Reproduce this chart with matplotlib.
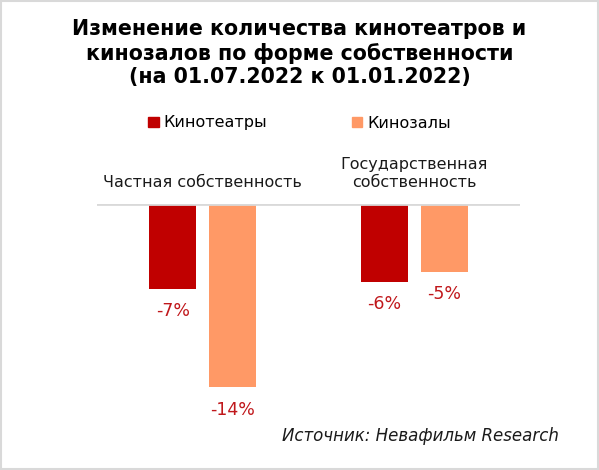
import numpy as np
import matplotlib
matplotlib.use('Agg')
import matplotlib.pyplot as plt
from matplotlib.patches import Patch, Rectangle

# данные
groups = ['Частная собственность', 'Государственная\nсобственность']
series = ['Кинотеатры', 'Кинозалы']
kinoteatry = [-6.55, -6.0]
kinozaly = [-14.1, -5.2]
colors = ['#c00000', '#ff9966']
label_color = '#c0171b'

plt.rcParams['font.family'] = ['DejaVu Sans']

fig = plt.figure(figsize=(5.99, 4.70), dpi=100)
ax = fig.add_axes([97 / 599, 50 / 470, 423 / 599, 216 / 470])

x = np.arange(len(groups))
w = 0.222
off = 0.1415
b1 = ax.bar(x - off, kinoteatry, w, color=colors[0], zorder=2)
b2 = ax.bar(x + off, kinozaly, w, color=colors[1], zorder=2)

for bars in (b1, b2):
    for rect in bars:
        v = rect.get_height()
        ax.annotate(f'{round(v)}%', (rect.get_x() + rect.get_width() / 2, v),
                    xytext=(0, -16), textcoords='offset points',
                    ha='center', va='center', fontsize=12.5, color=label_color)

ax.axhline(0, color='#d9d9d9', lw=2, zorder=3)
ax.set_xlim(-0.5, 1.5)
ax.set_ylim(-16.6, 0)
ax.axis('off')

for i, g in enumerate(groups):
    ax.annotate(g, (i, 0), xytext=(0, 10), textcoords='offset points',
                ha='center', va='bottom', fontsize=11.5, color='#1a1a1a',
                annotation_clip=False, linespacing=1.25)

fig.text(0.5, 1 - 53 / 470,
         'Изменение количества кинотеатров и\nкинозалов по форме собственности\n(на 01.07.2022 к 01.01.2022)',
         ha='center', va='center', fontsize=14.8, fontweight='bold', linespacing=1.2)

handles = [Patch(color=c) for c in colors]
fig.legend(handles, series, loc='center', bbox_to_anchor=(0.5, 1 - 123 / 470),
           ncol=2, frameon=False, fontsize=11.5, handlelength=0.65, handleheight=0.65,
           handletextpad=0.3, columnspacing=5.3)

fig.text(559 / 599, 1 - 436 / 470, 'Источник: Невафильм Research',
         ha='right', va='center', fontsize=12, style='italic', color='#1a1a1a')

fig.patches.append(Rectangle((0.002, 0.002), 0.996, 0.996, transform=fig.transFigure,
                             fill=False, edgecolor='#d9d9d9', lw=1.5))

fig.savefig('out.png', dpi=100)
